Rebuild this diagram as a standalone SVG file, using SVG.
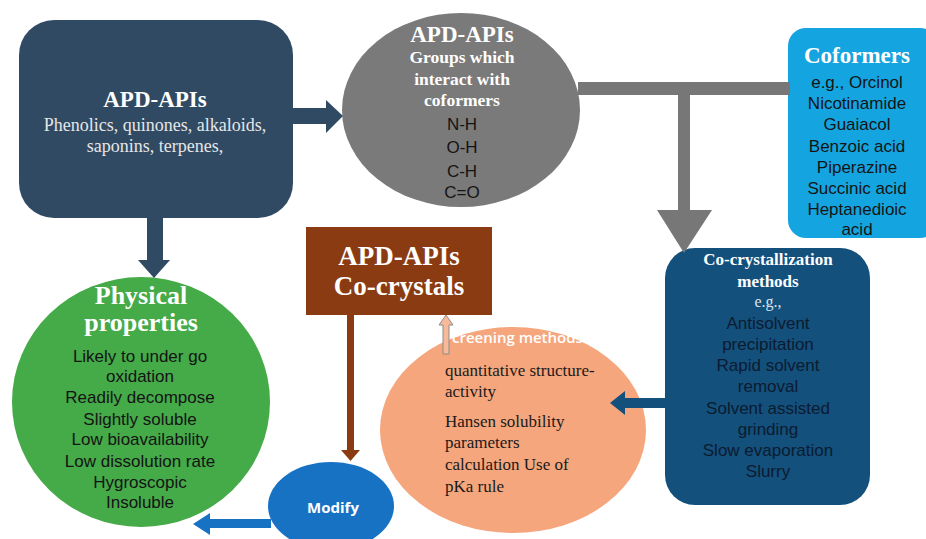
<svg xmlns="http://www.w3.org/2000/svg" width="926" height="539" viewBox="0 0 926 539">
  <style>
    .serifB { font-family: "Liberation Serif", "Times New Roman", serif; font-weight: bold; fill: #ffffff; text-anchor: middle; }
    .serif { font-family: "Liberation Serif", "Times New Roman", serif; }
    .sans { font-family: "Liberation Sans", Arial, sans-serif; font-size: 17px; text-anchor: middle; }
    .dark { fill: #141414; }
    .navyTxt { fill: #0b1b30; }
  </style>
  <rect width="926" height="539" fill="#ffffff"/>

  <!-- nodes -->
  <g id="apd-apis">
    <rect x="19" y="20" width="274" height="198" rx="35" fill="#304a64"/>
    <text class="serifB" x="155" y="107" font-size="23">APD-APIs</text>
    <text class="serif" x="155" y="131" font-size="18" fill="#e6e6e6" text-anchor="middle">Phenolics, quinones, alkaloids,</text>
    <text class="serif" x="155" y="152" font-size="18" fill="#e6e6e6" text-anchor="middle">saponins, terpenes,</text>
  </g>

  <g id="groups">
    <ellipse cx="461" cy="110" rx="119" ry="97" fill="#7a7a7a"/>
    <text class="serifB" x="462" y="42" font-size="23">APD-APIs</text>
    <text class="serifB" x="462" y="63" font-size="17.5">Groups which</text>
    <text class="serifB" x="462" y="85" font-size="17.5">interact with</text>
    <text class="serifB" x="462" y="106" font-size="17.5">coformers</text>
    <text class="sans dark" x="462" y="130">N-H</text>
    <text class="sans dark" x="462" y="153">O-H</text>
    <text class="sans dark" x="462" y="177">C-H</text>
    <text class="sans dark" x="462" y="198">C=O</text>
  </g>

  <g id="coformers">
    <rect x="788" y="28" width="150" height="210" rx="18" fill="#14a5e0"/>
    <text class="serifB" x="857" y="63" font-size="23">Coformers</text>
    <text class="sans dark" x="857" y="88">e.g., Orcinol</text>
    <text class="sans dark" x="857" y="109">Nicotinamide</text>
    <text class="sans dark" x="857" y="130">Guaiacol</text>
    <text class="sans dark" x="857" y="152">Benzoic acid</text>
    <text class="sans dark" x="857" y="173">Piperazine</text>
    <text class="sans dark" x="857" y="194">Succinic acid</text>
    <text class="sans dark" x="857" y="215">Heptanedioic</text>
    <text class="sans dark" x="857" y="235">acid</text>
  </g>

  <g id="physical-properties">
    <ellipse cx="141" cy="402" rx="129" ry="125" fill="#45aa48"/>
    <text class="serifB" x="141" y="304" font-size="26">Physical</text>
    <text class="serifB" x="141" y="331" font-size="26">properties</text>
    <text class="sans dark" x="140" y="362">Likely to under go</text>
    <text class="sans dark" x="140" y="382">oxidation</text>
    <text class="sans dark" x="140" y="403">Readily decompose</text>
    <text class="sans dark" x="140" y="425">Slightly soluble</text>
    <text class="sans dark" x="140" y="445">Low bioavailability</text>
    <text class="sans dark" x="140" y="467">Low dissolution rate</text>
    <text class="sans dark" x="140" y="488">Hygroscopic</text>
    <text class="sans dark" x="140" y="508">Insoluble</text>
  </g>

  <g id="co-crystals">
    <rect x="306" y="227" width="186" height="88" fill="#8b3b12"/>
    <text class="serifB" x="399" y="265" font-size="27">APD-APIs</text>
    <text class="serifB" x="399" y="295" font-size="27">Co-crystals</text>
  </g>

  <g id="screening">
    <ellipse cx="513" cy="430" rx="133" ry="103" fill="#f5a67d"/>
    <text x="452" y="343" font-family="'Open Sans', 'Liberation Sans', sans-serif" font-weight="600" font-size="15" fill="#ffffff">creening methods</text>
    <g class="serif" font-size="17" fill="#1a1a1a">
      <text x="445" y="376">quantitative structure-</text>
      <text x="445" y="397">activity</text>
      <text x="445" y="427">Hansen solubility</text>
      <text x="445" y="448">parameters</text>
      <text x="445" y="470">calculation Use of</text>
      <text x="445" y="492">pKa rule</text>
    </g>
  </g>

  <g id="modify">
    <ellipse cx="331" cy="506" rx="63" ry="44" fill="#1772c4"/>
    <text x="333" y="513" font-family="'Open Sans', 'Liberation Sans', sans-serif" font-weight="bold" font-size="15" fill="#ffffff" text-anchor="middle">Modify</text>
  </g>

  <g id="co-crystallization">
    <rect x="665" y="248" width="205" height="257" rx="30" fill="#13507c"/>
    <text class="serifB" x="768" y="265" font-size="17">Co-crystallization</text>
    <text class="serifB" x="768" y="287" font-size="17">methods</text>
    <text class="serif" x="768" y="307" font-size="16" fill="#dde4ec" text-anchor="middle">e.g.,</text>
    <text class="sans navyTxt" x="768" y="329">Antisolvent</text>
    <text class="sans navyTxt" x="768" y="350">precipitation</text>
    <text class="sans navyTxt" x="768" y="371">Rapid solvent</text>
    <text class="sans navyTxt" x="768" y="392">removal</text>
    <text class="sans navyTxt" x="768" y="414">Solvent assisted</text>
    <text class="sans navyTxt" x="768" y="435">grinding</text>
    <text class="sans navyTxt" x="768" y="456">Slow evaporation</text>
    <text class="sans navyTxt" x="768" y="477">Slurry</text>
  </g>

  <!-- connectors -->
  <g id="connectors">
    <!-- APD-APIs to groups -->
    <rect x="292" y="108" width="36" height="16" fill="#304a64"/>
    <polygon points="326,100 343,116 326,133" fill="#304a64"/>
    <!-- APD-APIs down to physical properties -->
    <rect x="147" y="217" width="16" height="45" fill="#304a64"/>
    <polygon points="138,260 170,260 154,278" fill="#304a64"/>
    <!-- groups / coformers bar and drop to methods -->
    <rect x="578" y="82" width="212" height="13" fill="#777777"/>
    <rect x="678" y="88" width="12" height="124" fill="#777777"/>
    <polygon points="657,210 712,210 684,253" fill="#777777"/>
    <!-- methods to screening -->
    <rect x="622" y="398" width="45" height="10" fill="#13507c"/>
    <polygon points="625,391 610,403 625,415" fill="#13507c"/>
    <!-- screening up to co-crystals -->
    <polygon points="443,354 443,325 439,325 446,315 453,325 449,325 449,354" fill="#f8b998" stroke="#8c8c8c" stroke-width="1"/>
    <!-- co-crystals down to modify -->
    <rect x="347" y="315" width="7" height="136" fill="#8b3b12"/>
    <polygon points="341,450 360,450 350.5,461" fill="#8b3b12"/>
    <!-- modify to physical properties -->
    <rect x="207" y="519" width="64" height="9" fill="#1772c4"/>
    <polygon points="210,513 193,524 210,535" fill="#1772c4"/>
  </g>
</svg>
